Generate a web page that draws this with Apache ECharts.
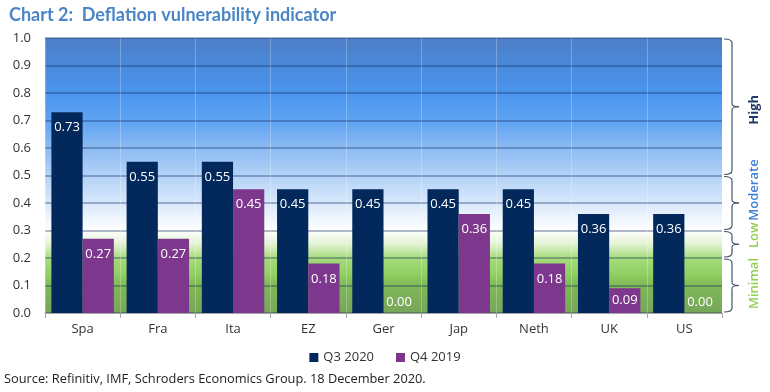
<!DOCTYPE html>
<html><head><meta charset="utf-8">
<script src="https://cdn.jsdelivr.net/npm/echarts@6/dist/echarts.min.js"></script>
<style>html,body{margin:0;padding:0;background:#fff}#c{width:770px;height:392px}</style>
</head><body><div id="c"></div>
<script>
var categories = ['Spa','Fra','Ita','EZ','Ger','Jap','Neth','UK','US'];
var q3_2020 = [0.73,0.55,0.55,0.45,0.45,0.45,0.45,0.36,0.36];
var q4_2019 = [0.27,0.27,0.45,0.18,0.00,0.36,0.18,0.09,0.00];
var seriesNames = ['Q3 2020','Q4 2019'];
var bandNames = ['High','Moderate','Low','Minimal'];
var bandBounds = [1.0,0.5,0.3,0.2,0.0];
var bandColors = ['#1f3864','#3d7fd6','#92d050','#92d050'];
var bandLabelShift = [3,-13,-9,-2];

var chart = echarts.init(document.getElementById('c'), null, {renderer:'canvas'});
function mkData(arr){
  return arr.map(function(v){
    var o = {value:v};
    if (v === 0) o.label = {position:'top', distance:4};
    else if (v < 0.12) o.label = {position:'inside'};
    return o;
  });
}
var bg = new echarts.graphic.LinearGradient(0,0,0,1,[
  {offset:0.00,color:'#4e7fc6'},
  {offset:0.10,color:'#4a89da'},
  {offset:0.20,color:'#4b95ee'},
  {offset:0.30,color:'#5ea3f2'},
  {offset:0.40,color:'#8cbbf3'},
  {offset:0.50,color:'#b3d2f7'},
  {offset:0.60,color:'#d8e8fb'},
  {offset:0.70,color:'#ffffff'},
  {offset:0.75,color:'#e2f3d3'},
  {offset:0.80,color:'#a6db7c'},
  {offset:0.86,color:'#90d062'},
  {offset:0.90,color:'#80b857'},
  {offset:1.00,color:'#76a65a'}
]);
var font = 'Open Sans';
var option = {
  animation:false,
  title:{text:'Chart 2:  Deflation vulnerability indicator', left:4, top:1,
    textStyle:{fontFamily:'Lato', fontWeight:'bold', fontSize:18, color:'#4a85c6'}},
  legend:{data:seriesNames, bottom:23, left:'center', itemWidth:9, itemHeight:9, itemGap:22,
    textStyle:{fontFamily:font, fontSize:13, color:'#333'}, icon:'rect'},
  grid:{left:45, right:48, top:38, bottom:79, show:true, backgroundColor:bg, borderWidth:0},
  xAxis:{type:'category', data:categories,
    axisLine:{lineStyle:{color:'#a6a6a6'}},
    axisTick:{show:true, length:5, lineStyle:{color:'#a6a6a6'}},
    splitLine:{show:true, lineStyle:{color:'rgba(255,255,255,0.25)', width:1}},
    axisLabel:{fontFamily:font, fontSize:13, color:'#333', margin:10}},
  yAxis:{type:'value', min:0, max:1, interval:0.1,
    axisLine:{show:false}, axisTick:{show:false},
    splitLine:{lineStyle:{color:'rgba(20,45,100,0.45)', width:1.5}},
    axisLabel:{fontFamily:font, fontSize:13, color:'#333', margin:14,
      formatter:function(v){return v.toFixed(1);}}},
  series:[
    {name:seriesNames[0], type:'bar', data:mkData(q3_2020), barGap:'0%', barCategoryGap:'17%',
     itemStyle:{color:'#03295c'},
     label:{show:true, position:'insideTop', distance:9, color:'#fff', fontFamily:font, fontSize:13,
       formatter:function(p){return p.value.toFixed(2);}}},
    {name:seriesNames[1], type:'bar', data:mkData(q4_2019),
     itemStyle:{color:'#7d378c'},
     label:{show:true, position:'insideTop', distance:9, color:'#fff', fontFamily:font, fontSize:13,
       formatter:function(p){return p.value.toFixed(2);}}}
  ]
};
chart.setOption(option);

// brackets on the right, positioned via the y axis scale
var gr = [
  {type:'text', left:4, top:373, style:{text:'Source: Refinitiv, IMF, Schroders Economics Group. 18 December 2020.',
    fontFamily:font, fontSize:12.8, fill:'#222'}}
];
var x0 = chart.convertToPixel({xAxisIndex:0}, 0), x1 = chart.convertToPixel({xAxisIndex:0}, 1);
var xPlotR = chart.convertToPixel({xAxisIndex:0}, categories.length-1) + (x1-x0)/2;
var xL = xPlotR + 2, xV = xPlotR + 10, xT = xPlotR + 17;
var ls = {stroke:'#44546a', lineWidth:1.2, fill:null};
for (var i=0;i<bandNames.length;i++){
  var yT = chart.convertToPixel({yAxisIndex:0}, bandBounds[i]) + 1;
  var yB = chart.convertToPixel({yAxisIndex:0}, bandBounds[i+1]) - 1;
  var yM = (yT+yB)/2;
  gr.push({type:'bezierCurve', shape:{x1:xL,y1:yT,x2:xV,y2:yT+4,cpx1:xV,cpy1:yT}, style:ls});
  gr.push({type:'line', shape:{x1:xV,y1:yT+4,x2:xV,y2:yM-3}, style:ls});
  gr.push({type:'bezierCurve', shape:{x1:xV,y1:yM-3,x2:xT,y2:yM,cpx1:xV,cpy1:yM}, style:ls});
  gr.push({type:'bezierCurve', shape:{x1:xT,y1:yM,x2:xV,y2:yM+3,cpx1:xV,cpy1:yM}, style:ls});
  gr.push({type:'line', shape:{x1:xV,y1:yM+3,x2:xV,y2:yB-4}, style:ls});
  gr.push({type:'bezierCurve', shape:{x1:xV,y1:yB-4,x2:xL,y2:yB,cpx1:xV,cpy1:yB}, style:ls});
  gr.push({type:'text', x:xPlotR+32, y:yM + bandLabelShift[i], rotation:Math.PI/2,
    style:{text:bandNames[i], fontFamily:font, fontSize:13, fontWeight: i===0 ? 'bold' : 600, fill:bandColors[i],
      align:'center', verticalAlign:'middle'}});
}
chart.setOption({graphic:gr});
</script></body></html>
